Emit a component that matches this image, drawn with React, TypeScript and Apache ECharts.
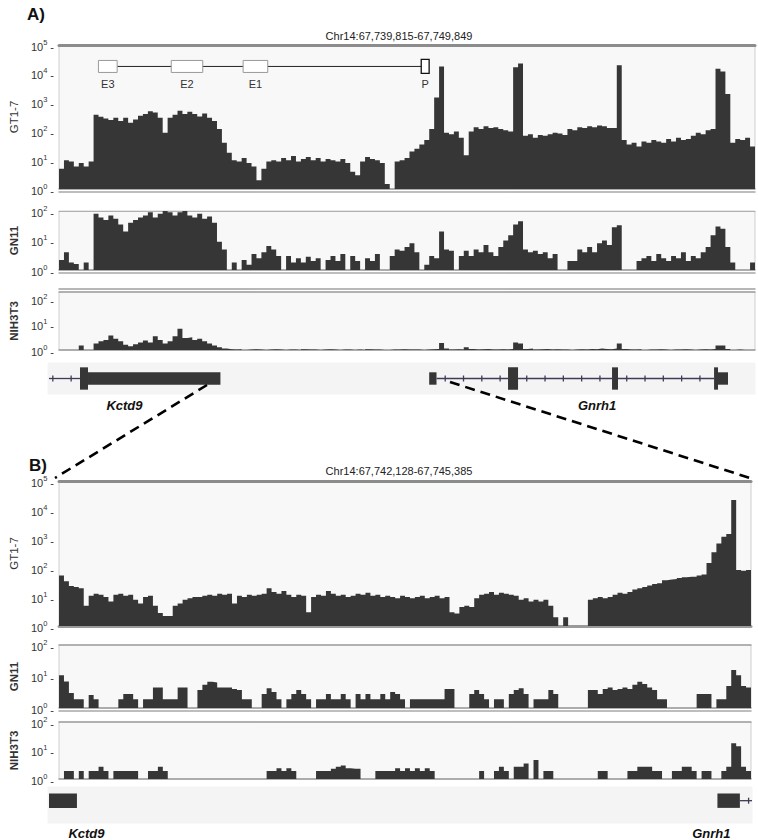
import React, { useEffect, useRef } from 'react';
import * as echarts from 'echarts';

// ---------------- DATA ----------------
const regionA = { chr: 'Chr14', start: 67739815, end: 67749849 };
const regionB = { chr: 'Chr14', start: 67742128, end: 67745385 };

// Panel A coverage (141 equal genomic bins across regionA)
const gt17A = [
  5, 10, 9, 6, 8, 6, 9, 380, 320, 280, 250, 300, 230, 300, 200, 260, 350, 400, 500, 450,
  300, 90, 300, 380, 520, 400, 480, 400, 330, 420, 300, 230, 120, 40, 18, 10, 9, 12, 8, 6,
  2, 5, 9, 10, 9, 12, 10, 14, 9, 11, 13, 10, 12, 9, 11, 10, 9, 11, 8, 4,
  3, 9, 13, 11, 10, 8, 1.5, 1, 9, 10, 12, 20, 25, 35, 50, 120, 1500, 18000, 90, 80,
  100, 60, 15, 100, 140, 120, 150, 130, 140, 120, 110, 100, 17000, 23000, 70, 80, 60, 75, 70, 80,
  90, 85, 75, 120, 110, 140, 130, 150, 140, 160, 150, 130, 130, 20000, 50, 35, 40, 30, 45, 40,
  50, 45, 40, 55, 45, 60, 50, 55, 70, 90, 80, 110, 120, 15000, 12000, 2000, 40, 55, 50, 60,
  30,
];
const gn11A = [
  2.2, 4, 1.8, 1.6, 1, 1.8, 1, 80, 60, 50, 70, 55, 35, 20, 40, 50, 60, 70, 90, 60,
  80, 100, 90, 70, 90, 100, 70, 60, 80, 55, 65, 40, 9, 5, 1, 1.8, 1, 2.2, 1.5, 3.5,
  2.5, 4, 6.5, 5, 3, 1, 3, 1.8, 2.5, 1.8, 2.8, 2, 2.5, 1, 2.2, 3, 2, 3.5, 1, 3,
  2, 1, 2.5, 2, 3.5, 1, 1, 3, 5, 4.5, 6, 8, 4, 1, 1.5, 3, 2.5, 20, 5, 4.5,
  1, 3, 4.5, 3, 5, 4, 7, 4, 3, 6, 10, 15, 35, 45, 5, 4, 4.5, 3.5, 4, 2.5,
  3.5, 1, 1, 2, 2, 5, 4, 6, 4, 8, 10, 7, 28, 33, 1, 1, 1, 2, 2.5, 3,
  2, 3.5, 2.5, 2, 3, 2.5, 4, 2, 3, 2.5, 4, 6, 15, 30, 25, 6, 1.8, 1, 1, 1,
  1.8,
];
const nih3t3A = [
  1, 1, 1, 1, 1.5, 1, 1, 1.8, 2.2, 2.5, 3.8, 2.8, 2.2, 1.6, 1.4, 1.7, 2.0, 2.4, 2.0, 3.5,
  2.5, 1.8, 2.2, 3.5, 7, 3, 3.2, 2.5, 2.8, 2.2, 1.8, 1.5, 1.3, 1.15, 1.08, 1.05, 1.08, 1, 1.05, 1.08,
  1.05, 1, 1.05, 1.08, 1.05, 1, 1.05, 1.05, 1, 1.08, 1.05, 1.05, 1, 1.05, 1.08, 1.05, 1, 1.05, 1.05, 1,
  1.05, 1, 1.08, 1.05, 1.05, 1, 1, 1.05, 1.05, 1.08, 1.05, 1.05, 1.05, 1, 1.05, 1.08, 1.1, 1.9, 1.15, 1.05,
  1.08, 1.05, 1.3, 1.1, 1.05, 1.08, 1.1, 1.05, 1.05, 1.08, 1.05, 1.1, 2.0, 1.8, 1.1, 1.15, 1.05, 1.08, 1.1, 1.05,
  1.08, 1.05, 1.05, 1, 1.05, 1.08, 1.05, 1.1, 1.08, 1.15, 1.1, 1.08, 1.15, 1.8, 1.1, 1.05, 1.05, 1.08, 1, 1.05,
  1.05, 1.08, 1.05, 1, 1.05, 1.05, 1.08, 1.05, 1, 1.05, 1.08, 1.05, 1.1, 1.5, 1.5, 1.1, 1, 1.05, 1, 1,
  1,
];

// Panel B coverage (140 equal genomic bins across regionB)
const gt17B = [
  55, 35, 24, 22, 20, 5, 11, 13, 12, 10, 7, 12, 13, 11, 12, 8, 6, 10, 11, 5,
  2.8, 2.2, 2.2, 5, 6, 8, 9, 10, 10, 11, 12, 11, 13, 12, 13, 6, 11, 10, 12, 11,
  12, 13, 20, 15, 13, 16, 12, 10, 12, 11, 3, 10, 12, 11, 16, 13, 11, 12, 10, 11,
  13, 12, 14, 11, 12, 10, 11, 10, 9, 11, 10, 9, 10, 11, 9, 10, 11, 9, 10, 3,
  2.7, 4.5, 5, 4.5, 9, 12, 13, 15, 12, 14, 13, 12, 11, 8, 9, 7, 8, 7, 8, 5,
  2, 1, 2, 1, 1, 1, 1, 8, 9, 10, 9, 10, 12, 14, 13, 15, 18, 20, 22, 25,
  28, 30, 38, 40, 42, 45, 48, 50, 50, 55, 60, 150, 350, 700, 1200, 1500, 22000, 85, 80, 85,
];
const gn11B = [
  11, 7, 3, 1.9, 1.9, 1, 2.6, 1.9, 1, 1, 1, 1, 1.9, 2.8, 2.8, 1.9, 1, 1.9, 1.9, 4.5,
  4.5, 1.9, 1.9, 1.9, 4.5, 4.5, 1, 1, 3.7, 5.5, 6.8, 6.5, 4.5, 4.5, 4.5, 4, 3.7, 1.9, 1.9, 1,
  1, 2.8, 4.2, 3.2, 1.9, 1, 1.9, 2.8, 3.7, 2.8, 1.9, 1, 1.9, 1.9, 2.8, 1.9, 1.9, 2.8, 1.9, 1,
  2.8, 1.9, 2.8, 1.9, 1.9, 2.8, 1.9, 3.2, 2.8, 1.9, 1, 1.9, 1.9, 1.9, 1.9, 1.9, 1.9, 1.9, 4, 4,
  1, 1, 1, 2.8, 3.7, 2.8, 1.9, 1, 1.9, 1.9, 1, 2.8, 3.7, 4.2, 2.8, 1, 1.9, 1.9, 1.9, 3.7,
  2.8, 1, 1, 1, 1, 1, 1, 3.7, 3.7, 2.8, 4, 4.5, 3.7, 4, 4.5, 4, 5.5, 6.8, 5.8, 4.5,
  3.7, 1.9, 1.9, 1, 1, 1, 1, 1, 1, 2.8, 2.8, 2.8, 1, 1.9, 1.9, 5, 16, 11, 5, 4.5,
];
const nih3t3B = [
  1, 1.9, 1.9, 1, 1.9, 1, 1.9, 1.9, 2.7, 1.9, 1, 1.9, 1.9, 1.9, 1.9, 1.9, 1, 1, 1.9, 1.9,
  2.7, 1.9, 1, 1, 1, 1, 1, 1, 1, 1, 1, 1, 1, 1, 1, 1, 1, 1, 1, 1,
  1, 1, 1.9, 1.9, 2.4, 1.9, 2.4, 1.9, 1, 1, 1, 1, 1.9, 1.9, 1.9, 2.3, 2.7, 3, 2.4, 2.3,
  2.3, 1, 1, 1, 1.9, 1.9, 1.9, 1.9, 2.4, 1.9, 2.4, 1.9, 2.4, 1.9, 2.4, 1.9, 1, 1, 1, 1,
  1, 1, 1, 1, 1, 1.9, 1, 1, 1.9, 2.7, 1.9, 1, 2.7, 2.7, 3.5, 1, 4.6, 1, 1.9, 1.9,
  1, 1, 1, 1, 1, 1, 1, 1, 1, 1.9, 1.9, 1, 1, 1, 1, 1.9, 1.9, 2.7, 2.7, 2.7,
  1.9, 1.9, 1, 1, 1.9, 1.9, 2.7, 2.7, 1.9, 1, 1.9, 1.9, 1, 1, 1.9, 2.7, 18, 14, 2.7, 1.9,
];

// Regulatory elements upstream of Gnrh1 (shown in GT1-7 track of panel A)
const elementNames = ['E3', 'E2', 'E1', 'P'];
const elementStarts = [67740383, 67741433, 67742469, 67745037];
const elementEnds = [67740653, 67741887, 67742824, 67745151];

// Gene annotation: kind 0 = intron, 1 = UTR exon (thin), 2 = coding exon (thick)
const featureStarts = [67739760, 67740269, 67740383, 67745329, 67746486, 67747905, 67745225, 67746344, 67747820, 67749268, 67749324];
const featureEnds = [67740269, 67740383, 67742262, 67746344, 67747820, 67749268, 67745329, 67746486, 67747905, 67749324, 67749466];
const featureKinds = [0, 2, 1, 0, 0, 0, 1, 2, 2, 2, 1];
const geneNames = ['Kctd9', 'Gnrh1'];
const geneLabelPosA = [67740900, 67747607];
const geneLabelPosB = [67742306, 67745197];
const trackNames = ['GT1-7', 'GN11', 'NIH3T3'];
const trackMax = [100000, 100, 200];
const trackMaxB = [100000, 100, 100];

// ---------------- HELPERS ----------------
const FONT = 'Liberation Sans, DejaVu Sans, sans-serif';
const BAR = '#363636';

function binData(vals: number[], region: { start: number; end: number }) {
  const step = (region.end - region.start) / vals.length;
  const out: number[][] = vals.map((v, i) => [region.start + i * step, v]);
  out.push([region.end, vals[vals.length - 1]]);
  return out;
}

function logLabel(v: number) {
  const p = Math.log10(v);
  const r = Math.round(p);
  if (Math.abs(p - r) > 1e-6 || r < 0 || r > 5) return '';
  return '{n|10}{s|' + r + '}{n| -}';
}

function geneRender(centerVal: number, thinFrac: number, thickFrac: number) {
  return (params: any, api: any) => {
    const cs = params.coordSys;
    const s = api.value(0);
    const e = api.value(1);
    const kind = api.value(2);
    const p0 = api.coord([s, centerVal]);
    const p1 = api.coord([e, centerVal]);
    const xmin = cs.x;
    const xmax = cs.x + cs.width;
    const x0 = Math.max(p0[0], xmin + 1);
    const x1 = Math.min(p1[0], xmax);
    if (x1 <= x0) return null;
    const cy = p0[1];
    if (kind === 0) {
      const children: any[] = [
        { type: 'line', shape: { x1: x0, y1: cy, x2: x1, y2: cy }, style: { stroke: '#3c3c56', lineWidth: 1.3 } },
      ];
      for (let t = p0[0] + 8.7; t < p1[0] - 3; t += 18.3) {
        if (t > xmin + 1 && t < xmax) {
          children.push({ type: 'line', shape: { x1: t, y1: cy - 3, x2: t, y2: cy + 3 }, style: { stroke: '#3c3c56', lineWidth: 1.3 } });
        }
      }
      return { type: 'group', children };
    }
    const h = (kind === 2 ? thickFrac : thinFrac) * cs.height;
    return { type: 'rect', shape: { x: x0, y: cy - h / 2, width: x1 - x0, height: h }, style: { fill: BAR } };
  };
}

function elementRender(params: any, api: any) {
  const s = api.value(0);
  const e = api.value(1);
  const idx = api.value(2);
  const p0 = api.coord([s, 18000]);
  const p1 = api.coord([e, 18000]);
  const cy = p0[1];
  if (idx < 0) {
    return { type: 'line', shape: { x1: p0[0], y1: cy, x2: p1[0], y2: cy }, style: { stroke: '#222', lineWidth: 1 } };
  }
  const isP = elementNames[idx] === 'P';
  const h = isP ? 14 : 12;
  return {
    type: 'group',
    children: [
      {
        type: 'rect',
        shape: { x: p0[0], y: cy - h / 2, width: p1[0] - p0[0], height: h },
        style: { fill: '#ffffff', stroke: isP ? '#111' : '#9a9a9a', lineWidth: isP ? 1.3 : 1 },
      },
      {
        type: 'text',
        style: {
          text: elementNames[idx], x: (p0[0] + p1[0]) / 2, y: cy + 12, align: 'center', verticalAlign: 'top',
          fontSize: 11, fontFamily: FONT, fill: '#333',
        },
      },
    ],
  };
}

// layout of the stacked tracks (pixel boxes)
const layout = [
  { left: 48, top: 45, width: 707, height: 144, top2: false, topW: 3, topC: '#8c8c8c', botDouble: true },
  { left: 48, top: 211, width: 707, height: 59, top2: false, topW: 1, topC: '#b0b0b0', botDouble: true },
  { left: 48, top: 292, width: 707, height: 58, top2: true, topW: 1.5, topC: '#a0a0a0', botDouble: false },
  { left: 48, top: 363, width: 707, height: 31 },
  { left: 48, top: 481, width: 703, height: 145, top2: false, topW: 3, topC: '#8c8c8c', botDouble: false },
  { left: 48, top: 645, width: 703, height: 63, top2: false, topW: 1.5, topC: '#a0a0a0', botDouble: true },
  { left: 48, top: 722, width: 703, height: 57, top2: false, topW: 1.5, topC: '#a0a0a0', botDouble: false },
  { left: 48, top: 787, width: 704, height: 36 },
];

function buildOption() {
  const grid: any[] = [];
  const xAxis: any[] = [];
  const yAxis: any[] = [];
  const series: any[] = [];
  const covA = [gt17A, gn11A, nih3t3A];
  const covB = [gt17B, gn11B, nih3t3B];

  layout.forEach((L: any, gi) => {
    const isGene = gi === 3 || gi === 7;
    const region = gi < 4 ? regionA : regionB;
    grid.push({
      left: L.left, top: L.top, width: L.width, height: L.height, show: true,
      backgroundColor: isGene ? '#f4f4f4' : '#f8f8f8',
      borderColor: isGene ? '#f4f4f4' : '#cfcfcf', borderWidth: 1,
    });
    const baseX = {
      type: 'value', gridIndex: gi, min: region.start, max: region.end,
      axisLabel: { show: false }, axisTick: { show: false }, splitLine: { show: false },
    };
    const mainX = xAxis.length;
    xAxis.push({
      ...baseX, position: 'bottom',
      axisLine: { show: !isGene, onZero: false, lineStyle: { color: '#9a9a9a', width: gi === 4 ? 3 : 1.5 } },
    });
    if (!isGene) {
      xAxis.push({ ...baseX, position: 'top', axisLine: { show: true, onZero: false, lineStyle: { color: L.topC, width: L.topW } } });
      if (L.top2) xAxis.push({ ...baseX, position: 'top', offset: 3, axisLine: { show: true, onZero: false, lineStyle: { color: '#a0a0a0', width: 1.5 } } });
      if (L.botDouble) xAxis.push({ ...baseX, position: 'bottom', offset: 3, axisLine: { show: true, onZero: false, lineStyle: { color: '#a8a8a8', width: 1.5 } } });
    }
    const yi = yAxis.length;
    if (isGene) {
      yAxis.push({ type: 'value', gridIndex: gi, min: 0, max: 1, show: false });
      series.push({
        type: 'custom', xAxisIndex: mainX, yAxisIndex: yi, silent: true,
        renderItem: gi === 3 ? geneRender(0.5, 0.4, 0.72) : geneRender(0.62, 0.4, 0.72),
        data: featureStarts.map((s, k) => [s, featureEnds[k], featureKinds[k]]),
      });
    } else {
      const ti = gi < 4 ? gi : gi - 4;
      const maxV = gi < 4 ? trackMax[ti] : trackMaxB[ti];
      yAxis.push({
        type: 'log', logBase: 10, gridIndex: gi, min: 1, max: maxV,
        name: trackNames[ti], nameLocation: 'middle', nameRotate: 90, nameGap: 36,
        nameTextStyle: { fontSize: 11.5, fontWeight: ti === 0 ? 'normal' : 'bold', color: '#333', fontFamily: FONT },
        axisLine: { show: false }, axisTick: { show: false }, splitLine: { show: false },
        axisLabel: {
          formatter: logLabel, color: '#333', fontFamily: FONT, margin: 5,
          rich: {
            n: { fontSize: 11, color: '#333', fontFamily: FONT, verticalAlign: 'bottom', lineHeight: 14 },
            s: { fontSize: 7.5, color: '#333', fontFamily: FONT, verticalAlign: 'top', lineHeight: 14 },
          },
        },
      });
      const vals = gi < 4 ? covA[ti] : covB[ti];
      series.push({
        type: 'line', xAxisIndex: mainX, yAxisIndex: yi, step: 'end', symbol: 'none', silent: true,
        lineStyle: { width: 0, color: BAR }, areaStyle: { color: BAR, opacity: 1, origin: 1 },
        data: binData(vals, region),
      });
      if (gi === 0) {
        const items: number[][] = [[elementEnds[0], elementStarts[3], -1]];
        elementNames.forEach((_, k) => items.push([elementStarts[k], elementEnds[k], k]));
        series.push({
          type: 'custom', xAxisIndex: mainX, yAxisIndex: yi, silent: true, z: 5,
          renderItem: elementRender, data: items,
        });
      }
    }
  });

  return { grid, xAxis, yAxis, series };
}

export default function App() {
  const ref = useRef<HTMLDivElement>(null);
  useEffect(() => {
    if (!ref.current) return;
    const chart = echarts.init(ref.current, undefined, { renderer: 'svg' });
    const base: any = buildOption();
    chart.setOption({ animation: false, backgroundColor: '#ffffff', ...base });

    // gene labels positioned from the genomic scale of each gene track
    const geneLabelX = (gridIdx: number, bp: number) => {
      const px = chart.convertToPixel({ gridIndex: gridIdx } as any, [bp, 0.5]) as any;
      return px ? px[0] : 0;
    };
    const labelStyle = { fontSize: 13, fontWeight: 'bold', fontStyle: 'italic', fontFamily: FONT, fill: '#111' };
    const aLab = geneNames.map((n, k) => ({
      type: 'text', x: geneLabelX(3, geneLabelPosA[k]), y: 405,
      style: { text: n, align: 'center', verticalAlign: 'middle', ...labelStyle },
    }));
    const bLab = geneNames.map((n, k) => ({
      type: 'text', x: geneLabelX(7, geneLabelPosB[k]), y: 833,
      style: { text: n, align: 'center', verticalAlign: 'middle', ...labelStyle },
    }));
    const fmt = (n: number) => n.toLocaleString('en-US');
    chart.setOption({
      graphic: [
        { type: 'text', x: 27, y: 14, style: { text: 'A)', fontSize: 17, fontWeight: 'bold', fontFamily: FONT, fill: '#111', verticalAlign: 'middle' } },
        { type: 'text', x: 29, y: 465, style: { text: 'B)', fontSize: 17, fontWeight: 'bold', fontFamily: FONT, fill: '#111', verticalAlign: 'middle' } },
        { type: 'text', x: 399, y: 36, style: { text: `${regionA.chr}:${fmt(regionA.start)}-${fmt(regionA.end)}`, fontSize: 11, fontFamily: FONT, fill: '#222', align: 'center', verticalAlign: 'middle' } },
        { type: 'text', x: 399, y: 471, style: { text: `${regionB.chr}:${fmt(regionB.start)}-${fmt(regionB.end)}`, fontSize: 11, fontFamily: FONT, fill: '#222', align: 'center', verticalAlign: 'middle' } },
        ...aLab,
        ...bLab,
        { type: 'line', shape: { x1: 207, y1: 385, x2: 55, y2: 478 }, style: { stroke: '#000', lineWidth: 2.6, lineDash: [10, 6] }, z: 10 },
        { type: 'line', shape: { x1: 450, y1: 382, x2: 753, y2: 479 }, style: { stroke: '#000', lineWidth: 2.6, lineDash: [10, 6] }, z: 10 },
      ],
    });
    return () => chart.dispose();
  }, []);
  return <div ref={ref} style={{ position: 'absolute', left: 0, top: 0, width: 758, height: 840 }} />;
}
